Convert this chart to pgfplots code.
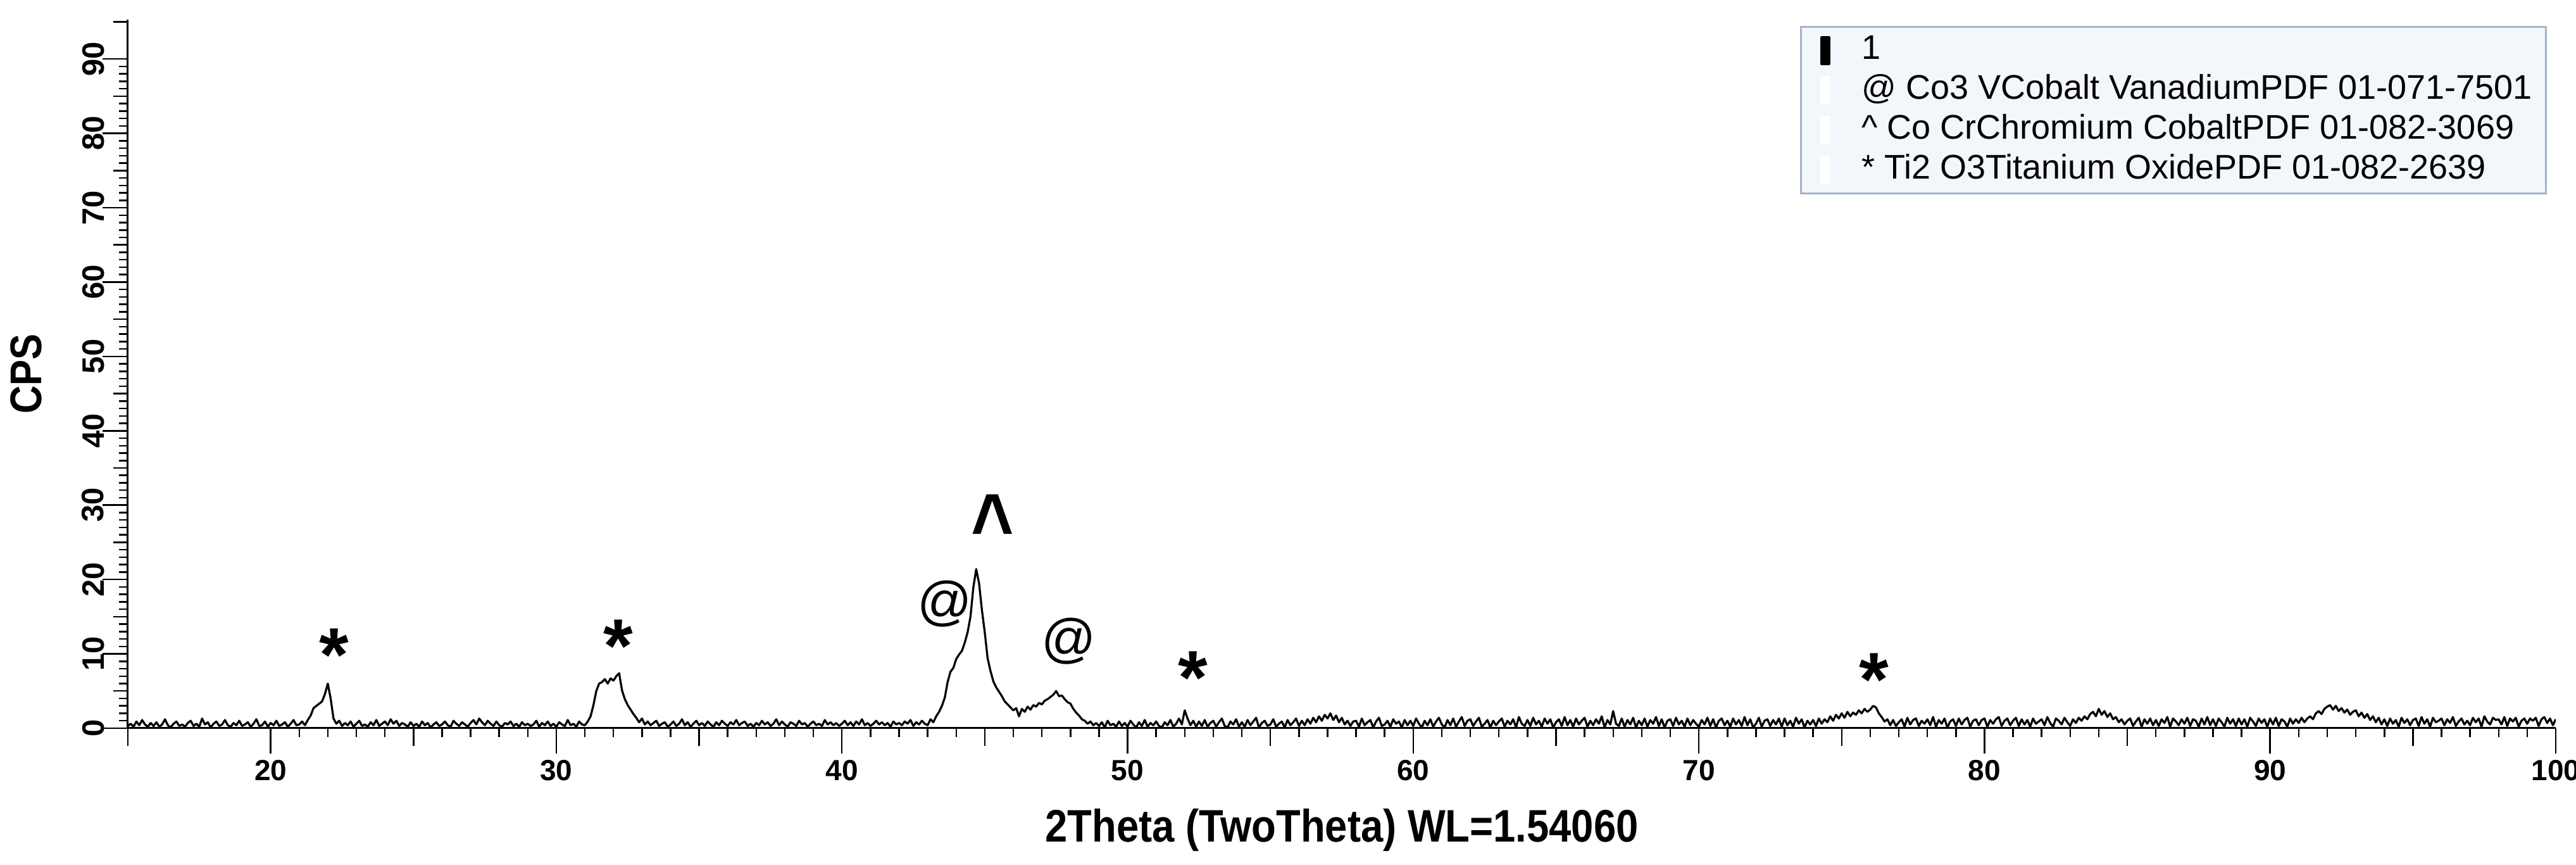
\documentclass[border=0pt]{standalone}
\usepackage{fontspec}
\setmainfont{Liberation Sans}
\newfontfamily\lblfont[FakeStretch=0.88]{Liberation Sans}
\usepackage{pgfplots}
\pgfplotsset{compat=1.18}
\definecolor{legfill}{RGB}{243,246,250}
\definecolor{legdraw}{RGB}{163,180,203}
\begin{document}
\begin{tikzpicture}
\begin{axis}[
  scale only axis, width=767.2pt, height=223.8pt,
  xmin=15, xmax=100, ymin=0, ymax=95.3,
  axis x line*=bottom, axis y line*=left,
  axis line style={-, line width=0.6pt, black},
  tick align=outside,
  tick style={black, line width=0.5pt},
  major tick length=8pt, minor tick length=2.8pt,
  xtick={20,30,...,100}, minor x tick num=9,
  extra x ticks={15,25,...,95}, extra x tick labels={},
  extra x tick style={major tick length=5.6pt},
  ytick={0,10,...,90}, minor y tick num=9,
  extra y ticks={5,15,...,95}, extra y tick labels={},
  extra y tick style={major tick length=4.6pt},
  /pgf/number format/assume math mode=true,
  ticklabel style={font=\bfseries\fontsize{9.2}{11}\selectfont},
  xticklabel style={anchor=north, inner sep=0pt, yshift=-1.8pt},
  yticklabel style={rotate=90, anchor=south, inner sep=0pt, yshift=-0.7pt, font=\bfseries\fontsize{9.8}{11}\selectfont},
  xlabel={2Theta (TwoTheta) WL=1.54060},
  xlabel style={font=\lblfont\bfseries\fontsize{14.4}{16}\selectfont, at={(axis description cs:0.5,0)}, anchor=base, yshift=-36pt},
  ylabel={CPS},
  ylabel style={font=\lblfont\bfseries\fontsize{14}{16}\selectfont, at={(axis description cs:0,0.5)}, anchor=center, yshift=32.2pt},
  legend image code/.code={\fill[#1] (-1.2pt,-4.2pt) rectangle (1.2pt,4.2pt);},
  legend cell align=left,
  legend style={at={(1,1)}, anchor=north east, xshift=-2.8pt, yshift=-2.1pt,
    fill=legfill, draw=legdraw, line width=0.6pt,
    inner xsep=6.2pt, inner ysep=2.4pt,
    nodes={inner sep=0pt, text height=7.8pt, text depth=2.2pt, font=\fontsize{10.8}{12}\selectfont},
    row sep=2.6pt, column sep=10pt},
]
\addplot[black, line width=0.65pt, line join=round] coordinates {
(15.0,0.3)(15.1,0.6)(15.2,0.2)(15.3,0.9)(15.4,0.4)(15.5,1.1)(15.6,0.5)(15.7,0.2)(15.8,0.7)(15.9,0.3)
(16.0,0.8)(16.1,0.2)(16.2,0.5)(16.3,1.2)(16.4,0.4)(16.5,0.1)(16.6,0.6)(16.7,0.9)(16.8,0.3)(16.9,0.5)
(17.0,0.2)(17.1,0.7)(17.2,1.0)(17.3,0.3)(17.4,0.6)(17.5,0.2)(17.6,1.3)(17.7,0.5)(17.8,0.8)(17.9,0.1)
(18.0,0.6)(18.1,0.9)(18.2,0.3)(18.3,0.5)(18.4,1.1)(18.5,0.4)(18.6,0.2)(18.7,0.7)(18.8,0.4)(18.9,1.0)
(19.0,0.3)(19.1,0.5)(19.2,0.8)(19.3,0.2)(19.4,0.6)(19.5,1.2)(19.6,0.3)(19.7,0.4)(19.8,0.9)(19.9,0.2)
(20.0,0.7)(20.1,0.4)(20.2,1.0)(20.3,0.3)(20.4,0.5)(20.5,0.8)(20.6,0.2)(20.7,0.6)(20.8,1.1)(20.9,0.4)
(21.0,0.5)(21.1,0.9)(21.2,0.4)(21.3,1.1)(21.4,1.7)(21.5,2.7)(21.6,3.0)(21.7,3.3)(21.8,3.6)(21.9,4.6)
(22.0,6.0)(22.1,4.0)(22.2,1.3)(22.3,0.6)(22.4,1.0)(22.5,0.3)(22.6,0.7)(22.7,0.4)(22.8,0.9)(22.9,0.2)
(23.0,0.6)(23.1,1.0)(23.2,0.3)(23.3,0.5)(23.4,0.2)(23.5,0.8)(23.6,0.4)(23.7,1.1)(23.8,0.3)(23.9,0.6)
(24.0,0.9)(24.1,0.4)(24.2,1.2)(24.3,0.6)(24.4,1.0)(24.5,0.3)(24.6,0.7)(24.7,0.5)(24.8,0.2)(24.9,0.8)
(25.0,0.3)(25.1,0.6)(25.2,0.2)(25.3,0.9)(25.4,0.4)(25.5,0.7)(25.6,0.1)(25.7,0.5)(25.8,0.8)(25.9,0.3)
(26.0,0.5)(26.1,0.9)(26.2,0.4)(26.3,0.2)(26.4,1.0)(26.5,0.6)(26.6,0.3)(26.7,0.8)(26.8,0.5)(26.9,0.2)
(27.0,0.7)(27.1,1.1)(27.2,0.5)(27.3,1.3)(27.4,0.8)(27.5,0.4)(27.6,1.0)(27.7,0.6)(27.8,0.3)(27.9,0.9)
(28.0,0.4)(28.1,0.2)(28.2,0.7)(28.3,0.5)(28.4,0.9)(28.5,0.3)(28.6,0.6)(28.7,0.2)(28.8,0.8)(28.9,0.4)
(29.0,0.6)(29.1,0.3)(29.2,0.5)(29.3,1.0)(29.4,0.2)(29.5,0.7)(29.6,0.4)(29.7,0.9)(29.8,0.3)(29.9,0.6)
(30.0,0.2)(30.1,0.8)(30.2,0.5)(30.3,0.3)(30.4,1.1)(30.5,0.4)(30.6,0.6)(30.7,0.2)(30.8,0.9)(30.9,0.5)
(31.0,0.4)(31.1,0.9)(31.2,1.6)(31.3,3.1)(31.4,5.0)(31.5,6.0)(31.6,6.2)(31.7,6.6)(31.8,6.0)(31.9,6.7)
(32.0,6.4)(32.1,7.0)(32.2,7.4)(32.3,5.1)(32.4,3.9)(32.5,3.1)(32.6,2.5)(32.7,1.9)(32.8,1.4)(32.9,0.8)
(33.0,1.3)(33.1,0.5)(33.2,0.9)(33.3,0.4)(33.4,0.7)(33.5,1.0)(33.6,0.3)(33.7,0.6)(33.8,0.8)(33.9,0.2)
(34.0,0.5)(34.1,0.9)(34.2,0.3)(34.3,0.6)(34.4,1.2)(34.5,0.4)(34.6,0.8)(34.7,0.2)(34.8,0.6)(34.9,1.0)
(35.0,0.4)(35.1,0.7)(35.2,0.3)(35.3,0.9)(35.4,0.5)(35.5,0.2)(35.6,0.8)(35.7,0.4)(35.8,1.0)(35.9,0.6)
(36.0,0.3)(36.1,0.8)(36.2,0.5)(36.3,1.1)(36.4,0.4)(36.5,0.7)(36.6,0.9)(36.7,0.3)(36.8,0.6)(36.9,0.2)
(37.0,0.7)(37.1,0.4)(37.2,1.0)(37.3,0.5)(37.4,0.8)(37.5,0.3)(37.6,0.6)(37.7,1.2)(37.8,0.4)(37.9,0.9)
(38.0,0.5)(38.1,0.2)(38.2,0.8)(38.3,0.6)(38.4,0.3)(38.5,1.0)(38.6,0.5)(38.7,0.7)(38.8,0.2)(38.9,0.6)
(39.0,0.9)(39.1,0.4)(39.2,0.6)(39.3,0.3)(39.4,1.1)(39.5,0.5)(39.6,0.8)(39.7,0.4)(39.8,0.7)(39.9,0.3)
(40.0,0.6)(40.1,1.0)(40.2,0.4)(40.3,0.8)(40.4,0.3)(40.5,0.9)(40.6,0.5)(40.7,1.2)(40.8,0.4)(40.9,0.7)
(41.0,0.3)(41.1,0.6)(41.2,1.0)(41.3,0.5)(41.4,0.8)(41.5,0.4)(41.6,0.7)(41.7,0.2)(41.8,0.9)(41.9,0.5)
(42.0,0.7)(42.1,0.4)(42.2,0.9)(42.3,0.6)(42.4,1.1)(42.5,0.3)(42.6,0.8)(42.7,0.5)(42.8,1.0)(42.9,0.6)
(43.0,0.4)(43.1,1.2)(43.2,0.8)(43.3,1.6)(43.4,2.2)(43.5,3.0)(43.6,4.1)(43.7,6.2)(43.8,7.6)(43.9,8.1)
(44.0,9.3)(44.1,9.9)(44.2,10.4)(44.3,11.5)(44.4,12.9)(44.5,15.0)(44.6,18.9)(44.7,21.4)(44.8,19.5)(44.9,15.9)
(45.0,12.9)(45.1,9.4)(45.2,7.7)(45.3,6.3)(45.4,5.5)(45.5,4.9)(45.6,4.3)(45.7,3.6)(45.8,3.2)(45.9,2.8)
(46.0,2.4)(46.1,2.7)(46.2,1.6)(46.3,2.6)(46.4,2.2)(46.5,2.9)(46.6,2.5)(46.7,3.1)(46.8,2.9)(46.9,3.4)
(47.0,3.2)(47.1,3.7)(47.2,3.9)(47.3,4.2)(47.4,4.5)(47.5,5.0)(47.6,4.3)(47.7,4.4)(47.8,3.9)(47.9,3.5)
(48.0,3.3)(48.1,2.6)(48.2,2.1)(48.3,1.7)(48.4,1.2)(48.5,1.0)(48.6,0.6)(48.7,0.9)(48.8,0.4)(48.9,0.7)
(49.0,0.3)(49.1,0.8)(49.2,0.1)(49.3,1.0)(49.4,0.4)(49.5,0.6)(49.6,0.2)(49.7,0.9)(49.8,0.3)(49.9,0.7)
(50.0,0.2)(50.1,1.0)(50.2,0.5)(50.3,0.1)(50.4,0.8)(50.5,0.3)(50.6,1.1)(50.7,0.2)(50.8,0.7)(50.9,0.4)
(51.0,0.9)(51.1,0.3)(51.2,0.1)(51.3,0.8)(51.4,0.4)(51.5,1.1)(51.6,0.2)(51.7,0.6)(51.8,1.3)(51.9,0.5)
(52.0,2.4)(52.1,1.3)(52.2,0.4)(52.3,1.0)(52.4,0.2)(52.5,0.9)(52.6,0.3)(52.7,1.1)(52.8,0.2)(52.9,0.7)
(53.0,1.0)(53.1,0.2)(53.2,0.8)(53.3,1.3)(53.4,0.3)(53.5,0.1)(53.6,0.9)(53.7,0.5)(53.8,1.2)(53.9,0.2)
(54.0,0.8)(54.1,0.2)(54.2,1.1)(54.3,0.4)(54.4,0.9)(54.5,1.4)(54.6,0.1)(54.7,0.7)(54.8,1.0)(54.9,0.3)
(55.0,0.5)(55.1,1.2)(55.2,0.2)(55.3,0.6)(55.4,0.9)(55.5,0.1)(55.6,1.1)(55.7,0.4)(55.8,0.8)(55.9,1.3)
(56.0,0.3)(56.1,1.0)(56.2,0.4)(56.3,1.2)(56.4,0.6)(56.5,1.4)(56.6,0.8)(56.7,1.6)(56.8,1.0)(56.9,1.8)
(57.0,1.3)(57.1,2.0)(57.2,1.1)(57.3,1.7)(57.4,0.8)(57.5,1.4)(57.6,0.5)(57.7,1.0)(57.8,0.3)(57.9,0.9)
(58.0,1.0)(58.1,0.2)(58.2,1.3)(58.3,0.4)(58.4,0.8)(58.5,1.1)(58.6,0.1)(58.7,0.9)(58.8,1.4)(58.9,0.3)
(59.0,0.5)(59.1,1.0)(59.2,0.2)(59.3,1.2)(59.4,0.6)(59.5,0.9)(59.6,0.1)(59.7,1.1)(59.8,0.4)(59.9,1.0)
(60.0,0.3)(60.1,1.3)(60.2,0.6)(60.3,0.1)(60.4,1.0)(60.5,0.4)(60.6,1.2)(60.7,0.2)(60.8,0.9)(60.9,1.4)
(61.0,0.5)(61.1,0.1)(61.2,1.1)(61.3,0.4)(61.4,1.3)(61.5,0.2)(61.6,0.9)(61.7,1.5)(61.8,0.3)(61.9,1.0)
(62.0,1.2)(62.1,0.3)(62.2,0.9)(62.3,1.4)(62.4,0.2)(62.5,0.6)(62.6,1.1)(62.7,0.1)(62.8,1.0)(62.9,0.4)
(63.0,0.9)(63.1,1.3)(63.2,0.2)(63.3,1.0)(63.4,0.5)(63.5,1.2)(63.6,0.1)(63.7,1.5)(63.8,0.6)(63.9,0.3)
(64.0,1.1)(64.1,0.3)(64.2,1.4)(64.3,0.5)(64.4,1.0)(64.5,0.2)(64.6,1.3)(64.7,0.6)(64.8,1.2)(64.9,0.1)
(65.0,0.8)(65.1,1.2)(65.2,0.3)(65.3,1.5)(65.4,0.4)(65.5,1.1)(65.6,0.2)(65.7,1.3)(65.8,0.5)(65.9,1.0)
(66.0,1.4)(66.1,0.2)(66.2,1.0)(66.3,0.4)(66.4,1.2)(66.5,0.6)(66.6,1.6)(66.7,0.1)(66.8,1.1)(66.9,0.5)
(67.0,2.3)(67.1,0.6)(67.2,0.3)(67.3,1.3)(67.4,0.2)(67.5,1.1)(67.6,0.5)(67.7,1.4)(67.8,0.1)(67.9,1.0)
(68.0,0.4)(68.1,1.3)(68.2,0.2)(68.3,1.1)(68.4,0.6)(68.5,1.5)(68.6,0.3)(68.7,1.2)(68.8,0.1)(68.9,1.0)
(69.0,1.2)(69.1,0.3)(69.2,1.4)(69.3,0.5)(69.4,1.0)(69.5,0.2)(69.6,1.3)(69.7,0.4)(69.8,1.1)(69.9,0.6)
(70.0,0.2)(70.1,1.1)(70.2,0.5)(70.3,1.4)(70.4,0.3)(70.5,1.2)(70.6,0.1)(70.7,1.0)(70.8,1.3)(70.9,0.4)
(71.0,1.0)(71.1,0.2)(71.2,1.3)(71.3,0.5)(71.4,1.1)(71.5,0.3)(71.6,1.5)(71.7,0.4)(71.8,1.2)(71.9,0.1)
(72.0,0.6)(72.1,1.4)(72.2,0.2)(72.3,1.0)(72.4,1.2)(72.5,0.3)(72.6,1.1)(72.7,0.5)(72.8,1.3)(72.9,0.2)
(73.0,1.3)(73.1,0.4)(73.2,1.0)(73.3,0.2)(73.4,1.4)(73.5,0.6)(73.6,1.2)(73.7,0.1)(73.8,1.0)(73.9,0.5)
(74.0,1.1)(74.1,0.3)(74.2,1.3)(74.3,0.6)(74.4,1.2)(74.5,0.8)(74.6,1.6)(74.7,1.0)(74.8,1.8)(74.9,1.3)
(75.0,2.0)(75.1,1.4)(75.2,2.2)(75.3,1.6)(75.4,2.1)(75.5,1.8)(75.6,2.4)(75.7,2.0)(75.8,2.6)(75.9,2.2)
(76.0,2.5)(76.1,3.0)(76.2,2.8)(76.3,2.0)(76.4,1.5)(76.5,0.9)(76.6,1.2)(76.7,0.4)(76.8,1.1)(76.9,0.3)
(77.0,0.8)(77.1,1.2)(77.2,0.2)(77.3,1.4)(77.4,0.5)(77.5,1.1)(77.6,1.3)(77.7,0.3)(77.8,1.0)(77.9,0.6)
(78.0,1.2)(78.1,0.4)(78.2,1.5)(78.3,0.2)(78.4,1.1)(78.5,0.6)(78.6,1.3)(78.7,0.1)(78.8,0.9)(78.9,1.2)
(79.0,0.3)(79.1,1.3)(79.2,0.5)(79.3,1.1)(79.4,1.4)(79.5,0.2)(79.6,1.0)(79.7,1.2)(79.8,0.4)(79.9,1.1)
(80.0,1.3)(80.1,0.2)(80.2,1.1)(80.3,0.6)(80.4,1.2)(80.5,1.5)(80.6,0.3)(80.7,1.0)(80.8,1.3)(80.9,0.4)
(81.0,1.0)(81.1,1.4)(81.2,0.3)(81.3,1.2)(81.4,0.5)(81.5,1.1)(81.6,0.2)(81.7,1.3)(81.8,0.6)(81.9,0.9)
(82.0,1.2)(82.1,0.4)(82.2,1.5)(82.3,0.7)(82.4,0.2)(82.5,1.3)(82.6,1.0)(82.7,0.5)(82.8,1.4)(82.9,0.8)
(83.0,0.3)(83.1,1.2)(83.2,0.7)(83.3,1.4)(83.4,1.0)(83.5,1.6)(83.6,1.2)(83.7,1.9)(83.8,2.2)(83.9,1.6)
(84.0,2.6)(84.1,1.8)(84.2,2.3)(84.3,1.5)(84.4,2.0)(84.5,1.2)(84.6,1.5)(84.7,0.8)(84.8,1.2)(84.9,0.5)
(85.0,1.0)(85.1,1.3)(85.2,0.3)(85.3,0.9)(85.4,1.4)(85.5,0.2)(85.6,1.2)(85.7,0.6)(85.8,1.3)(85.9,0.4)
(86.0,1.1)(86.1,0.3)(86.2,1.2)(86.3,0.7)(86.4,1.5)(86.5,0.2)(86.6,1.3)(86.7,0.9)(86.8,0.4)(86.9,1.2)
(87.0,0.6)(87.1,1.4)(87.2,0.3)(87.3,1.2)(87.4,1.0)(87.5,0.2)(87.6,1.3)(87.7,0.5)(87.8,1.5)(87.9,0.4)
(88.0,1.2)(88.1,0.3)(88.2,1.3)(88.3,0.8)(88.4,0.2)(88.5,1.4)(88.6,0.6)(88.7,1.2)(88.8,0.3)(88.9,1.3)
(89.0,0.5)(89.1,1.2)(89.2,0.2)(89.3,1.4)(89.4,0.9)(89.5,0.3)(89.6,1.3)(89.7,0.7)(89.8,1.2)(89.9,0.2)
(90.0,1.3)(90.1,0.5)(90.2,1.4)(90.3,0.3)(90.4,1.2)(90.5,0.9)(90.6,0.2)(90.7,1.3)(90.8,0.6)(90.9,1.2)
(91.0,0.7)(91.1,1.4)(91.2,0.8)(91.3,1.3)(91.4,1.6)(91.5,1.2)(91.6,2.0)(91.7,2.3)(91.8,1.9)(91.9,2.6)
(92.0,2.9)(92.1,3.1)(92.2,2.5)(92.3,3.0)(92.4,2.3)(92.5,2.7)(92.6,2.1)(92.7,2.5)(92.8,1.8)(92.9,2.2)
(93.0,2.4)(93.1,1.6)(93.2,2.1)(93.3,1.4)(93.4,1.9)(93.5,1.1)(93.6,1.6)(93.7,0.8)(93.8,1.4)(93.9,0.5)
(94.0,1.2)(94.1,0.3)(94.2,1.3)(94.3,0.6)(94.4,1.1)(94.5,0.2)(94.6,1.4)(94.7,0.7)(94.8,1.2)(94.9,0.4)
(95.0,1.1)(95.1,1.3)(95.2,0.3)(95.3,1.5)(95.4,0.6)(95.5,1.2)(95.6,0.2)(95.7,1.4)(95.8,0.8)(95.9,1.0)
(96.0,1.3)(96.1,0.4)(96.2,1.2)(96.3,0.7)(96.4,1.5)(96.5,0.3)(96.6,0.9)(96.7,1.3)(96.8,0.5)(96.9,1.0)
(97.0,0.4)(97.1,1.4)(97.2,0.8)(97.3,1.3)(97.4,0.2)(97.5,1.6)(97.6,0.9)(97.7,0.5)(97.8,1.4)(97.9,1.1)
(98.0,1.2)(98.1,0.5)(98.2,1.5)(98.3,0.3)(98.4,1.3)(98.5,0.9)(98.6,1.4)(98.7,0.2)(98.8,1.0)(98.9,1.3)
(99.0,0.6)(99.1,1.3)(99.2,1.0)(99.3,1.4)(99.4,0.3)(99.5,1.2)(99.6,1.5)(99.7,0.7)(99.8,1.3)(99.9,0.4)
(100.0,1.2)
};
\addlegendentry{\makebox[210pt][l]{1}}
\addlegendimage{white}
\addlegendentry{\makebox[210pt][l]{@ Co3 VCobalt VanadiumPDF 01-071-7501}}
\addlegendimage{white}
\addlegendentry{\makebox[210pt][l]{\textasciicircum\ Co CrChromium CobaltPDF 01-082-3069}}
\addlegendimage{white}
\addlegendentry{\makebox[210pt][l]{* Ti2 O3Titanium OxidePDF 01-082-2639}}
\node[font=\bfseries\fontsize{24}{24}\selectfont, inner sep=0pt, yshift=-5.1pt] at (axis cs:22.23,12.0) {*};
\node[font=\bfseries\fontsize{24}{24}\selectfont, inner sep=0pt, yshift=-5.1pt] at (axis cs:32.17,13.2) {*};
\node[font=\bfseries\fontsize{24}{24}\selectfont, inner sep=0pt, yshift=-5.1pt] at (axis cs:52.3,9.0) {*};
\node[font=\bfseries\fontsize{24}{24}\selectfont, inner sep=0pt, yshift=-5.1pt] at (axis cs:76.13,8.7) {*};
\node[font=\bfseries\fontsize{22}{22}\selectfont, inner sep=0pt, yshift=-4.7pt] at (axis cs:45.28,29.2) {\scalebox{1.05}[1.3]{\textasciicircum}};
\node[font=\fontsize{17}{18}\selectfont, inner sep=0pt] at (axis cs:43.6,16.7) {@};
\node[font=\fontsize{17}{18}\selectfont, inner sep=0pt] at (axis cs:47.95,11.7) {@};
\coordinate (ll) at (rel axis cs:0,0);
\coordinate (ur) at (rel axis cs:1,1);
\end{axis}
\pgfresetboundingbox
\path ([xshift=-40.4pt,yshift=-43.2pt]ll) rectangle ([xshift=6.4pt,yshift=6.2pt]ur);
\end{tikzpicture}
\end{document}
